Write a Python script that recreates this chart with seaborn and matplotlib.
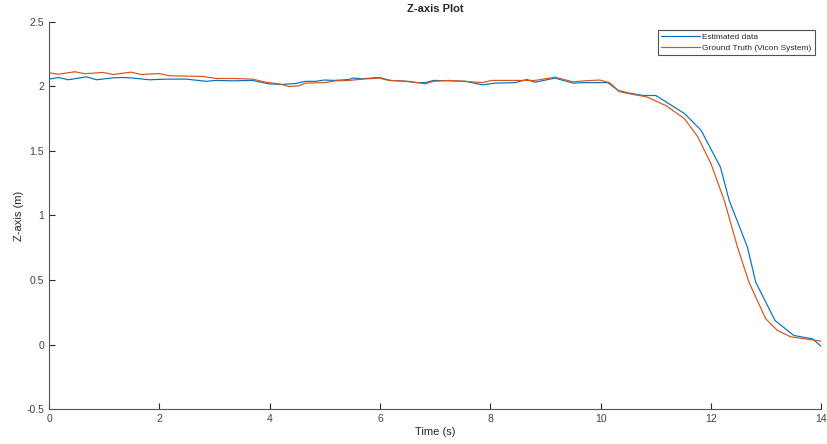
import seaborn as sns
from matplotlib import pyplot as plt
import pandas as pd

# Estimated data
est_t = [0, 0.17, 0.35, 0.68, 0.86, 1.16, 1.34, 1.53, 1.82, 2.13, 2.49, 2.85, 3.03, 3.33, 3.69,
         3.99, 4.23, 4.47, 4.65, 4.83, 4.99, 5.17, 5.44, 5.5, 5.68, 5.98, 6.19, 6.46, 6.67, 6.82,
         6.97, 7.24, 7.55, 7.85, 8.09, 8.45, 8.66, 8.81, 9.17, 9.5, 9.71, 10.13, 10.31, 10.5,
         10.77, 11.0, 11.52, 11.82, 12.17, 12.33, 12.66, 12.81, 13.16, 13.5, 13.84, 14.0]
est_z = [2.057, 2.07, 2.052, 2.075, 2.052, 2.067, 2.07, 2.065, 2.052, 2.057, 2.057, 2.04, 2.047,
         2.044, 2.047, 2.02, 2.016, 2.023, 2.04, 2.04, 2.05, 2.047, 2.054, 2.065, 2.06, 2.07,
         2.047, 2.04, 2.03, 2.03, 2.047, 2.044, 2.04, 2.013, 2.026, 2.03, 2.054, 2.033, 2.065,
         2.026, 2.03, 2.03, 1.97, 1.95, 1.93, 1.93, 1.79, 1.66, 1.375, 1.116, 0.754, 0.483,
         0.186, 0.07, 0.044, -0.016]

# Ground truth (Vicon)
gt_t = [0, 0.17, 0.47, 0.65, 0.98, 1.16, 1.49, 1.67, 2.0, 2.19, 2.79, 3.03, 3.33, 3.69, 3.93,
        4.17, 4.35, 4.53, 4.65, 4.99, 5.2, 5.44, 5.68, 5.98, 6.16, 6.52, 6.82, 6.97, 7.24, 7.55,
        7.85, 8.03, 8.45, 8.81, 9.17, 9.5, 9.71, 9.98, 10.16, 10.34, 10.56, 10.83, 11.19, 11.52,
        11.76, 12.0, 12.24, 12.48, 12.69, 12.84, 12.99, 13.2, 13.44, 13.69, 14.0]
gt_z = [2.106, 2.095, 2.114, 2.099, 2.109, 2.093, 2.111, 2.093, 2.1, 2.083, 2.078, 2.062, 2.062,
        2.057, 2.033, 2.02, 2.0, 2.005, 2.026, 2.03, 2.044, 2.047, 2.057, 2.065, 2.047, 2.04,
        2.02, 2.04, 2.047, 2.04, 2.03, 2.047, 2.047, 2.047, 2.072, 2.036, 2.044, 2.05, 2.03,
        1.96, 1.94, 1.92, 1.85, 1.75, 1.61, 1.40, 1.116, 0.754, 0.48, 0.34, 0.2, 0.11, 0.06,
        0.044, 0.026]

labels = ["Estimated data", "Ground Truth (Vicon System)"]

df = pd.concat([
    pd.DataFrame({"Time": est_t, "Z": est_z, "series": labels[0]}),
    pd.DataFrame({"Time": gt_t, "Z": gt_z, "series": labels[1]}),
], ignore_index=True)

sns.set_style("ticks")
plt.rcParams["font.family"] = ["Liberation Sans", "DejaVu Sans"]
grey = "#262626"

fig = plt.figure(figsize=(8.28, 4.44), dpi=100)
ax = fig.add_axes([0.0592, 0.0788, 0.9328, 0.8717])

sns.lineplot(data=df, x="Time", y="Z", hue="series", hue_order=labels,
             palette=["#0072BD", "#D95319"], linewidth=0.85, sort=False,
             estimator=None, ax=ax)

ax.set_xlim(0, 14)
ax.set_ylim(-0.5, 2.5)
ax.set_xticks([0, 2, 4, 6, 8, 10, 12, 14])
ax.set_yticks([-0.5, 0, 0.5, 1, 1.5, 2, 2.5])
ax.set_yticklabels(["-0.5", "0", "0.5", "1", "1.5", "2", "2.5"])
ax.tick_params(direction="in", length=4, width=0.8, colors=grey, labelsize=7.5, labelcolor="#404040")
for s in ["top", "right"]:
    ax.spines[s].set_visible(False)
for s in ["left", "bottom"]:
    ax.spines[s].set_color("#555555")
    ax.spines[s].set_linewidth(0.8)

ax.set_xlabel("Time (s)", fontsize=8, color=grey, labelpad=2)
ax.set_ylabel("Z-axis (m)", fontsize=8, color=grey, labelpad=2)
ax.set_title("Z-axis Plot", fontsize=8, fontweight="bold", pad=7.5)

leg = ax.legend(loc="upper right", bbox_to_anchor=(0.992, 0.98), fontsize=6.0,
                frameon=True, fancybox=False, handlelength=4.6, borderpad=0.45,
                labelspacing=0.3, handletextpad=0.3, borderaxespad=0)
leg.get_frame().set_edgecolor(grey)
leg.get_frame().set_linewidth(0.8)

plt.savefig("out.png", dpi=100)
